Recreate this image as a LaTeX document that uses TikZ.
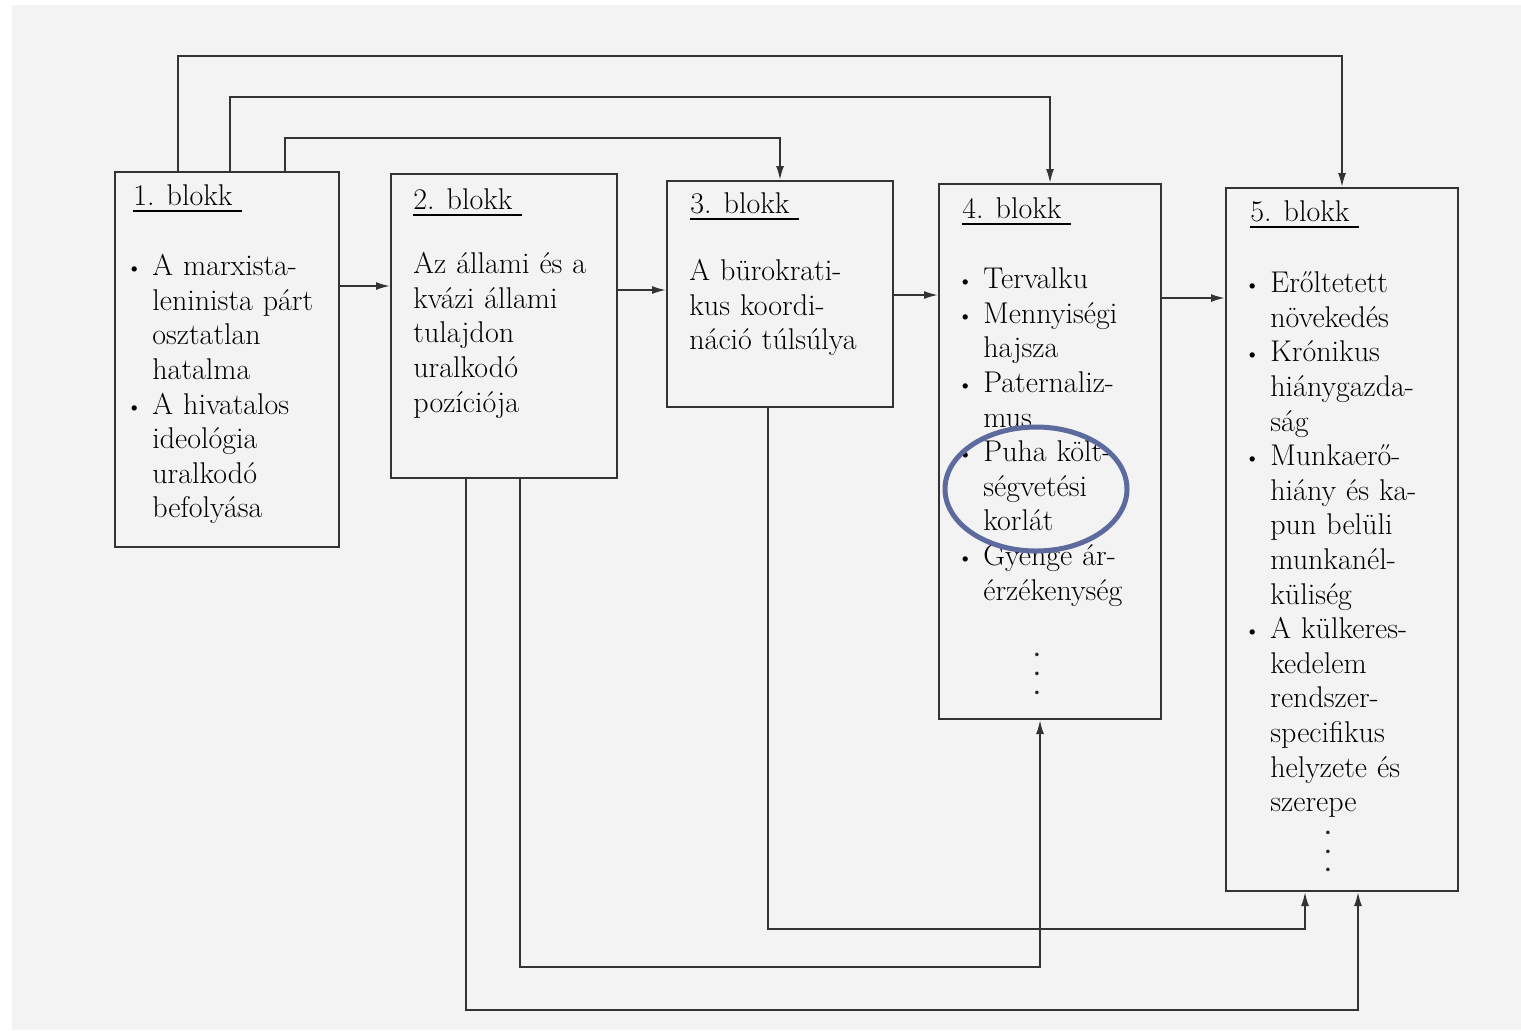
\documentclass[tikz,border=0pt]{standalone}
\usepackage{tikz}
\usetikzlibrary{calc, arrows.meta}

\definecolor{ovalblue}{RGB}{92,106,158}
\definecolor{scan}{RGB}{243,243,243}
\setlength{\parindent}{0pt}

% bullet hung to the left of the text column
\newcommand{\blt}{\leavevmode\llap{\raisebox{1pt}{\fontsize{9}{9}\selectfont\textbullet}\hspace{5.5pt}}}
% underlined block title
\newcommand{\alahuz}[1]{\setbox0\hbox{#1\hspace{5pt}}\rlap{\rule[-3.5pt]{\wd0}{1pt}}\box0}

\begin{document}
\begin{tikzpicture}[x=0.5pt, y=-0.5pt,
	blokk/.style={draw=black!80, line width=1pt, inner sep=0pt, anchor=north west},
	cimke/.style={anchor=base west, inner sep=0pt, text=black, font=\fontsize{15}{17.3}\selectfont},
	szoveg/.style={anchor=north west, inner sep=0pt, text width=125pt, align=left, text=black, font=\fontsize{15}{17.3}\selectfont},
	pont/.style={inner sep=0pt, text=black!85, font=\fontsize{6}{6}\selectfont},
	arr/.style={arrows={-Latex[length=7pt,width=4pt]}, draw=black!80, line width=0.9pt}]
	\useasboundingbox (0,0) rectangle (1521,1030);
	\fill [white] (0,0) rectangle (1521,1030);
	\fill [scan] (12,5) rectangle (1521,1030);

	% the five blocks
	\node [blokk, minimum width=112pt, minimum height=187.5pt] (b1) at (114,171) {};
	\node [blokk, minimum width=113pt, minimum height=152pt] (b2) at (390,173) {};
	\node [blokk, minimum width=113pt, minimum height=113pt] (b3) at (666,180) {};
	\node [blokk, minimum width=111pt, minimum height=267.5pt] (b4) at (938,183) {};
	\node [blokk, minimum width=116pt, minimum height=351.5pt] (b5) at (1225,187) {};

	\node [cimke] (c1) at (133,205) {\alahuz{1. blokk}};
	\node [cimke] (c2) at (413,209) {\alahuz{2. blokk}};
	\node [cimke] (c3) at (690,213) {\alahuz{3. blokk}};
	\node [cimke] (c4) at (962,218) {\alahuz{4. blokk}};
	\node [cimke] (c5) at (1250,221) {\alahuz{5. blokk}};

	\node [szoveg] (s1) at (152,251) {\blt\strut A marxista-\\leninista párt\\osztatlan\\hatalma\\
		\blt A hivatalos\\ideológia\\uralkodó\\befolyása};
	\node [szoveg] (s2) at (413,249) {\strut Az állami és a\\kvázi állami\\tulajdon\\uralkodó\\pozíciója};
	\node [szoveg] (s3) at (689,256) {\strut A bürokrati-\\kus koordi-\\náció túlsúlya};
	\node [szoveg] (s4) at (983,264) {\blt\strut Tervalku\\\blt Mennyiségi\\hajsza\\\blt Paternaliz-\\mus\\
		\blt Puha költ-\\ségvetési\\korlát\\\blt Gyenge ár-\\érzékenység};
	\node [szoveg] (s5) at (1270,268) {\blt\strut Erőltetett\\növekedés\\\blt Krónikus\\hiánygazda-\\ság\\
		\blt Munkaerő-\\hiány és ka-\\pun belüli\\munkanél-\\küliség\\
		\blt A külkeres-\\kedelem\\rendszer-\\specifikus\\helyzete és\\szerepe};

	% the dots closing blocks 4 and 5
	\node [pont] (p41) at (1037,655) {\textbullet};
	\node [pont] (p42) at (1037,674) {\textbullet};
	\node [pont] (p43) at (1037,693) {\textbullet};
	\node [pont] (p51) at (1328,833) {\textbullet};
	\node [pont] (p52) at (1328,852) {\textbullet};
	\node [pont] (p53) at (1328,870) {\textbullet};

	\draw [ovalblue, line width=2.5pt] (1036,489) ellipse (91 and 62);

	% chain of arrows between neighbours
	\draw [arr] (b1.east |- 0,286) -- (b2.west |- 0,286);
	\draw [arr] (b2.east |- 0,290) -- (b3.west |- 0,290);
	\draw [arr] (b3.east |- 0,295) -- (b4.west |- 0,295);
	\draw [arr] (b4.east |- 0,298) -- (b5.west |- 0,298);

	% from block 1 over the top
	\draw [arr] ($(b1.north west)+(64,0)$) |- (b5.north |- 0,56) -- (b5.north);
	\draw [arr] ($(b1.north west)+(116,0)$) |- (b4.north |- 0,97) -- (b4.north);
	\draw [arr] ($(b1.north west)+(171,0)$) |- (b3.north |- 0,138) -- (b3.north);

	% from blocks 2 and 3 along the bottom
	\draw [arr] ($(b2.south west)+(76,0)$) |- ($(b5.south west)+(133,118)$) -- ($(b5.south west)+(133,0)$);
	\draw [arr] ($(b2.south west)+(130,0)$) |- ($(b4.south west)+(102,247)$) -- ($(b4.south west)+(102,0)$);
	\draw [arr] ($(b3.south west)+(102,0)$) |- ($(b5.south west)+(80,37)$) -- ($(b5.south west)+(80,0)$);
\end{tikzpicture}
\end{document}
